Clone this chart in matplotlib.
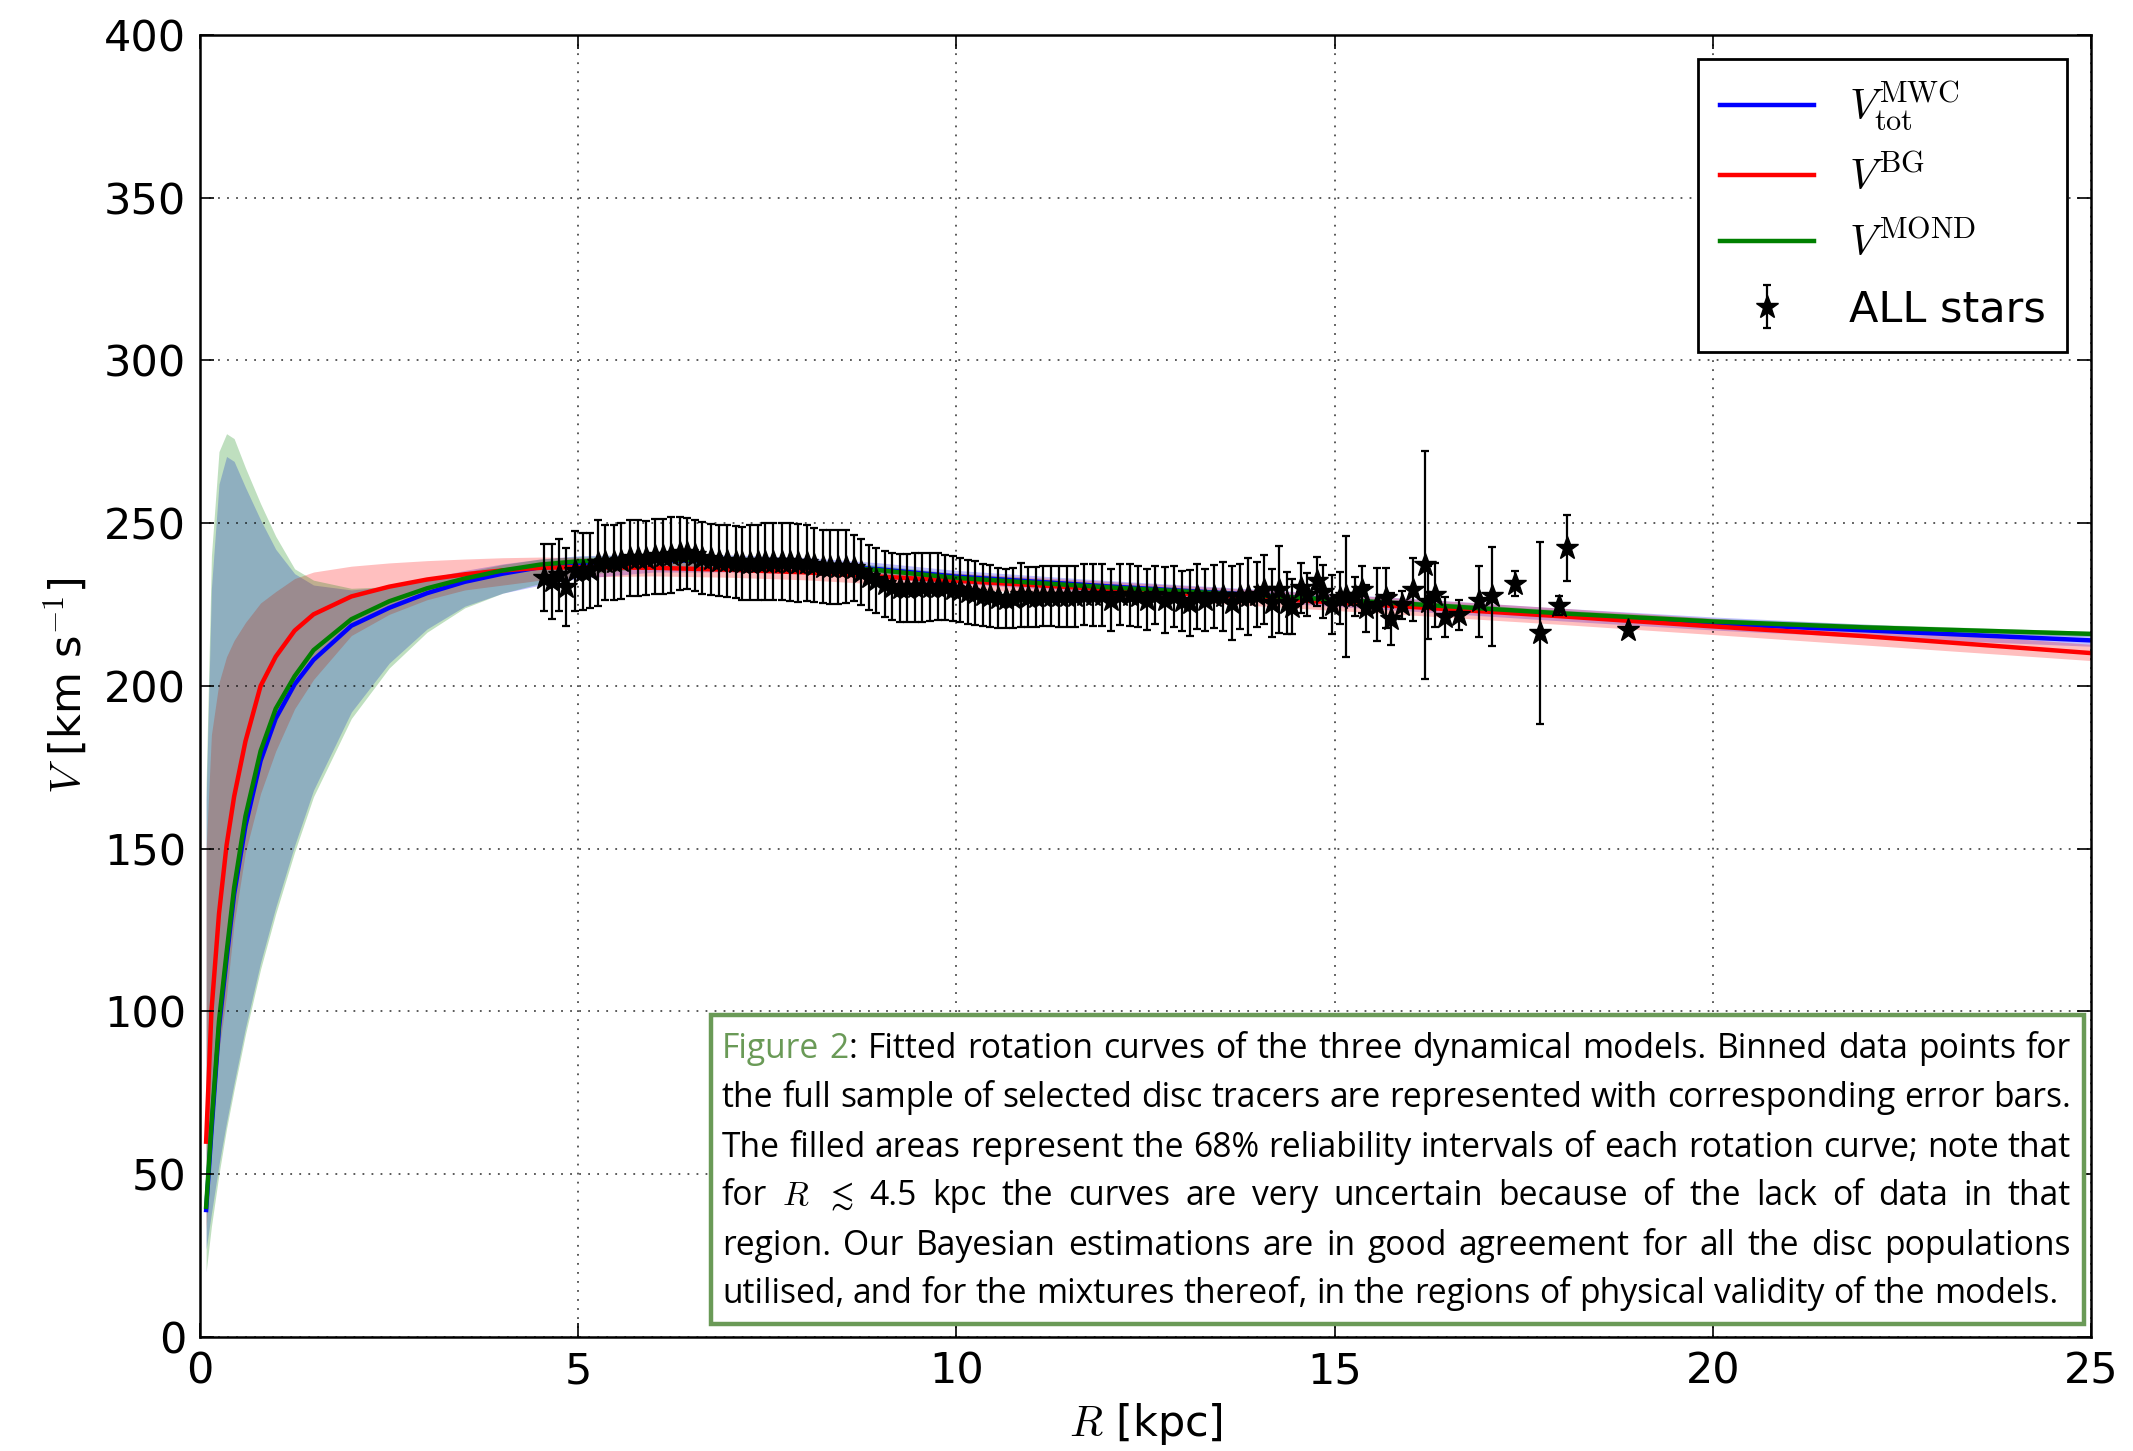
import matplotlib
matplotlib.use('Agg')
import matplotlib.pyplot as plt
from matplotlib.patches import Rectangle

plt.rcParams['mathtext.fontset'] = 'cm'
plt.rcParams['font.family'] = ['DejaVu Sans']

# model rotation curves, R in kpc, V in km/s
r_mod = [0.08, 0.15, 0.25, 0.35, 0.45, 0.6, 0.8, 1.0, 1.25, 1.5, 2.0, 2.5, 3.0, 3.5, 4.0,
         4.5, 5, 6, 7, 8, 9, 10, 12, 14, 16, 18, 20, 22, 25]
v_mwc = [39, 63, 95, 116, 136, 157, 177, 190, 200.5, 208, 218.5, 224, 228.5, 232, 234.5,
         236.5, 237.8, 238.6, 238.3, 237.5, 235.8, 233.6, 230.6, 227.9, 225.0, 222.0, 219.2, 217.1, 214.0]
mwc_lo = [27, 38, 53, 66, 78, 95, 115, 132, 151, 168, 192, 207, 217.5, 224.5, 228.5,
          231, 233, 235, 235, 234.5, 233, 231.5, 228.6, 225.9, 223.0, 220.0, 217.2, 215.0, 212.2]
mwc_hi = [165, 230, 262, 270.5, 269, 261, 251, 242, 234.5, 231, 229.5, 230.5, 233, 235.5, 237.5,
          239, 240, 240.5, 240.3, 239.5, 237.8, 235.5, 232.4, 229.7, 226.9, 223.9, 221.2, 219.0, 215.8]
v_bg = [60, 100, 130, 151, 166, 183, 200, 209, 217, 222, 227.5, 230.5, 232.7, 234.3, 235.5,
        236.3, 236.5, 236.3, 235.7, 234.9, 233.6, 232.3, 229.7, 227.0, 224.3, 221.4, 218.3, 215.3, 210.1]
bg_lo = [33, 62, 88, 105, 127, 149, 167, 180, 193, 202, 215.5, 222, 226.5, 229.5, 231,
         232.5, 233.5, 233.8, 233.4, 232.6, 231.3, 230.0, 227.3, 224.6, 221.8, 218.9, 215.8, 212.6, 207.8]
bg_hi = [150, 185, 201, 209, 214, 219.5, 225.5, 229, 233, 235, 236.8, 237.8, 238.5, 239, 239.4,
         239.6, 239.5, 239, 238.2, 237.3, 236, 234.7, 232.1, 229.5, 226.8, 223.9, 220.8, 218.0, 212.8]
v_mond = [40, 65, 97, 118, 138, 160, 180, 193, 203, 211, 220.5, 226, 230, 233, 235.5,
          237.3, 238.3, 238.8, 238.5, 237.5, 235.5, 233.2, 230.3, 227.8, 225.2, 222.3, 219.8, 218.0, 216.0]
mond_lo = [20, 34, 50, 64, 76, 93, 113, 130, 149, 166, 190, 205.5, 216.5, 224, 228.5,
           231.5, 234, 236.5, 236.8, 236.2, 234.6, 232.2, 229.3, 226.8, 224.2, 221.3, 218.8, 217.0, 215.2]
mond_hi = [170, 240, 272, 277.5, 276, 267, 256, 246, 236, 232.5, 230, 230.5, 232.5, 235, 237.3,
           239, 239.8, 240.3, 240, 239, 237, 234.6, 231.5, 228.8, 226.2, 223.3, 220.8, 219.0, 216.8]

# binned data for ALL stars
r_dat = [4.55, 4.65, 4.74, 4.84, 4.96, 5.06, 5.15, 5.26, 5.36, 5.47, 5.57, 5.68, 5.79, 5.90,
         6.01, 6.12, 6.23, 6.34, 6.44, 6.55, 6.64, 6.75, 6.86, 6.97, 7.08, 7.17, 7.27, 7.38,
         7.47, 7.58, 7.69, 7.80, 7.91,
         8.02, 8.12, 8.23, 8.33, 8.44, 8.54, 8.64, 8.74, 8.84, 8.94, 9.05, 9.15, 9.25, 9.35,
         9.45, 9.55, 9.65, 9.75, 9.85, 9.95, 10.05, 10.15, 10.25, 10.35, 10.45, 10.55, 10.65,
         10.75, 10.85, 10.95, 11.05, 11.15, 11.25,
         11.36, 11.46, 11.57, 11.68, 11.81, 11.92, 12.04, 12.16, 12.29, 12.40, 12.52, 12.62,
         12.76, 12.87, 12.98, 13.09, 13.18, 13.29, 13.40, 13.53, 13.64, 13.75, 13.86, 13.97,
         14.06, 14.17, 14.26, 14.37, 14.43,
         14.56, 14.64, 14.77, 14.84, 14.96, 15.07, 15.15, 15.27, 15.36, 15.42, 15.56, 15.68,
         15.74, 15.89, 16.04, 16.20, 16.23, 16.33, 16.46, 16.65, 16.91, 17.08, 17.39, 17.71,
         17.96, 18.07, 18.88]
v_dat = [233.3, 232.1, 234.0, 230.4, 235.2, 235.2, 235.5, 237.8, 238.0, 238.0, 238.4, 239.2,
         239.3, 239.3, 239.8, 239.8, 240.3, 240.7, 240.7, 240.1, 239.4, 238.9, 238.5, 238.3,
         238.0, 237.7, 237.9, 238.0, 238.2, 238.2, 238.2, 238.1, 237.8,
         237.9, 237.2, 236.7, 236.6, 236.6, 236.6, 236.2, 235.1, 233.4, 232.5, 231.4, 230.5,
         230.2, 230.2, 230.3, 230.3, 230.4, 230.5, 230.3, 229.9, 229.4, 228.9, 228.5, 228.0,
         227.7, 227.0, 226.8, 227.0, 227.9, 227.2, 227.3, 227.7, 227.7,
         227.5, 227.5, 227.5, 228.0, 228.0, 228.0, 226.5, 228.0, 228.0, 227.5, 226.5, 228.0,
         226.5, 227.5, 226.0, 225.5, 227.5, 226.5, 227.5, 227.5, 225.5, 227.5, 227.5, 228.0,
         229.6, 225.5, 229.6, 225.5, 224.4,
         230.1, 228.0, 232.1, 229.0, 225.0, 227.0, 227.5, 227.5, 229.6, 223.9, 225.0, 227.0,
         220.5, 225.0, 229.6, 237.2, 225.7, 228.0, 221.1, 221.9, 226.0, 227.5, 231.4, 216.2,
         224.7, 242.4, 217.3]
e_dat = [10.4, 11.6, 11.0, 11.9, 12.3, 11.8, 11.5, 13.1, 11.5, 11.6, 11.7, 11.7, 11.6, 11.5,
         11.5, 11.5, 11.6, 11.2, 10.9, 11.0, 11.0, 10.9, 11.0, 11.0, 11.0, 11.2, 11.5, 11.6,
         11.8, 11.9, 11.9, 11.9, 11.9,
         11.7, 11.3, 11.3, 11.4, 11.4, 11.2, 10.2, 10.2, 10.0, 10.0, 10.2, 10.2, 10.4, 10.4,
         10.5, 10.5, 10.3, 10.2, 10.0, 10.0, 9.8, 9.9, 9.8, 9.5, 9.6, 9.2, 9.1, 9.2, 9.8,
         9.2, 9.1, 9.2, 9.2,
         9.3, 9.3, 9.5, 9.4, 9.6, 9.5, 9.5, 9.4, 9.5, 9.3, 9.4, 9.0, 10.2, 9.5, 9.2, 10.2,
         10.0, 9.5, 9.6, 10.5, 11.3, 10.0, 11.9, 10.0, 10.7, 10.4, 13.4, 9.4, 8.5,
         7.7, 6.6, 7.5, 8.2, 9.1, 8.1, 18.7, 5.9, 7.2, 7.2, 11.1, 9.1, 8.0, 4.3, 9.6, 35.1,
         11.3, 9.9, 6.2, 4.6, 10.9, 15.2, 3.9, 28.0, 2.8, 10.1, 0.5]

x_ticks = [0, 5, 10, 15, 20, 25]
y_ticks = [0, 50, 100, 150, 200, 250, 300, 350, 400]

caption_lines = [
    "Figure 2: Fitted rotation curves of the three dynamical models. Binned data points for",
    "the full sample of selected disc tracers are represented with corresponding error bars.",
    "The filled areas represent the 68% reliability intervals of each rotation curve; note that",
    r"for $R$ $\lesssim$ 4.5 kpc the curves are very uncertain because of the lack of data in that",
    "region. Our Bayesian estimations are in good agreement for all the disc populations",
    "utilised, and for the mixtures thereof, in the regions of physical validity of the models.",
]
cap_green = '#6a9a57'

fs = 31
fig = plt.figure(figsize=(21.33, 14.51), dpi=100)
ax = fig.add_axes([0.0938, 0.0786, 0.8865, 0.8973])

ax.fill_between(r_mod, mwc_lo, mwc_hi, color='blue', alpha=0.25, lw=0)
ax.fill_between(r_mod, bg_lo, bg_hi, color='red', alpha=0.25, lw=0)
ax.fill_between(r_mod, mond_lo, mond_hi, color='green', alpha=0.25, lw=0)
ax.plot(r_mod, v_mwc, color='blue', lw=3.2, label=r'$V^{\rm MWC}_{\rm tot}$')
ax.plot(r_mod, v_bg, color='red', lw=3.2, label=r'$V^{\rm BG}$')
ax.plot(r_mod, v_mond, color='green', lw=3.2, label=r'$V^{\rm MOND}$')
ax.errorbar(r_dat, v_dat, yerr=e_dat, fmt='*', color='k', ms=17, elinewidth=1.6,
            capsize=2.8, capthick=1.6, label='ALL stars')

ax.set_xlim(0, 25)
ax.set_ylim(0, 400)
ax.set_xticks(x_ticks)
ax.set_yticks(y_ticks)
ax.tick_params(direction='in', top=True, right=True, length=10, width=1.2,
               labelsize=fs, pad=10)
for s in ax.spines.values():
    s.set_linewidth(1.8)
ax.set_axisbelow(False)
ax.grid(True, color='k', ls=(0, (1, 4)), lw=1.3, alpha=0.7)
ax.set_xlabel(r'$R$ [kpc]', fontsize=fs, labelpad=6)
ax.set_ylabel(r'$V$ [km s$^{-1}$]', fontsize=fs, labelpad=10)

leg = ax.legend(loc='upper right', fontsize=fs, fancybox=False, edgecolor='k',
                framealpha=1, handlelength=2.2, handletextpad=0.8, labelspacing=0.55,
                borderpad=0.5, borderaxespad=0.55, numpoints=1)
leg.get_frame().set_linewidth(2)

# caption box (pixel coords of the 2133x1451 image)
W, H = 2133.0, 1451.0
bx0, bx1, by0, by1 = 711, 2084, 1015, 1324
ax.add_patch(Rectangle((bx0 / W, 1 - by1 / H), (bx1 - bx0) / W, (by1 - by0) / H,
                       transform=fig.transFigure, facecolor='white', edgecolor=cap_green,
                       lw=3.2, zorder=10, clip_on=False))

fig.canvas.draw()
r = fig.canvas.get_renderer()
fam = ['Open Sans', 'DejaVu Sans']
tx0, tx1 = 722, 2071
baselines = [1058, 1107, 1157, 1205, 1255, 1303]
cfs = 24.2


def wid(t):
    return t.get_window_extent(renderer=r).width


rows = []
for i, line in enumerate(caption_lines):
    words = []
    for w in line.split(' '):
        if i == 0 and w == 'Figure':
            segs = [(w, cap_green)]
        elif i == 0 and w == '2:':
            segs = [('2', cap_green), (':', 'k')]
        else:
            segs = [(w, 'k')]
        words.append([fig.text(0, 0, s, color=c, fontsize=cfs, family=fam,
                               ha='left', va='baseline', zorder=20) for s, c in segs])
    rows.append(words)

ta = fig.text(0, 0, 'a a', fontsize=cfs, family=fam)
tb = fig.text(0, 0, 'aa', fontsize=cfs, family=fam)
space = wid(ta) - wid(tb)
ta.remove()
tb.remove()

avail = tx1 - tx0
nat = [sum(wid(t) for wd in row for t in wd) + space * (len(row) - 1) for row in rows]
if max(nat) > avail:
    k = avail / max(nat) * 0.995
    for row in rows:
        for wd in row:
            for t in wd:
                t.set_fontsize(cfs * k)
    space *= k

for i, row in enumerate(rows):
    widths = [[wid(t) for t in wd] for wd in row]
    total = sum(sum(w) for w in widths)
    if i < len(rows) - 1:
        gap = (avail - total) / (len(row) - 1)
    else:
        gap = space
    x = tx0
    y = 1 - baselines[i] / H
    for wd, ws in zip(row, widths):
        for t, w in zip(wd, ws):
            t.set_position((x / W, y))
            x += w
        x += gap

fig.savefig('out.png', dpi=100)
